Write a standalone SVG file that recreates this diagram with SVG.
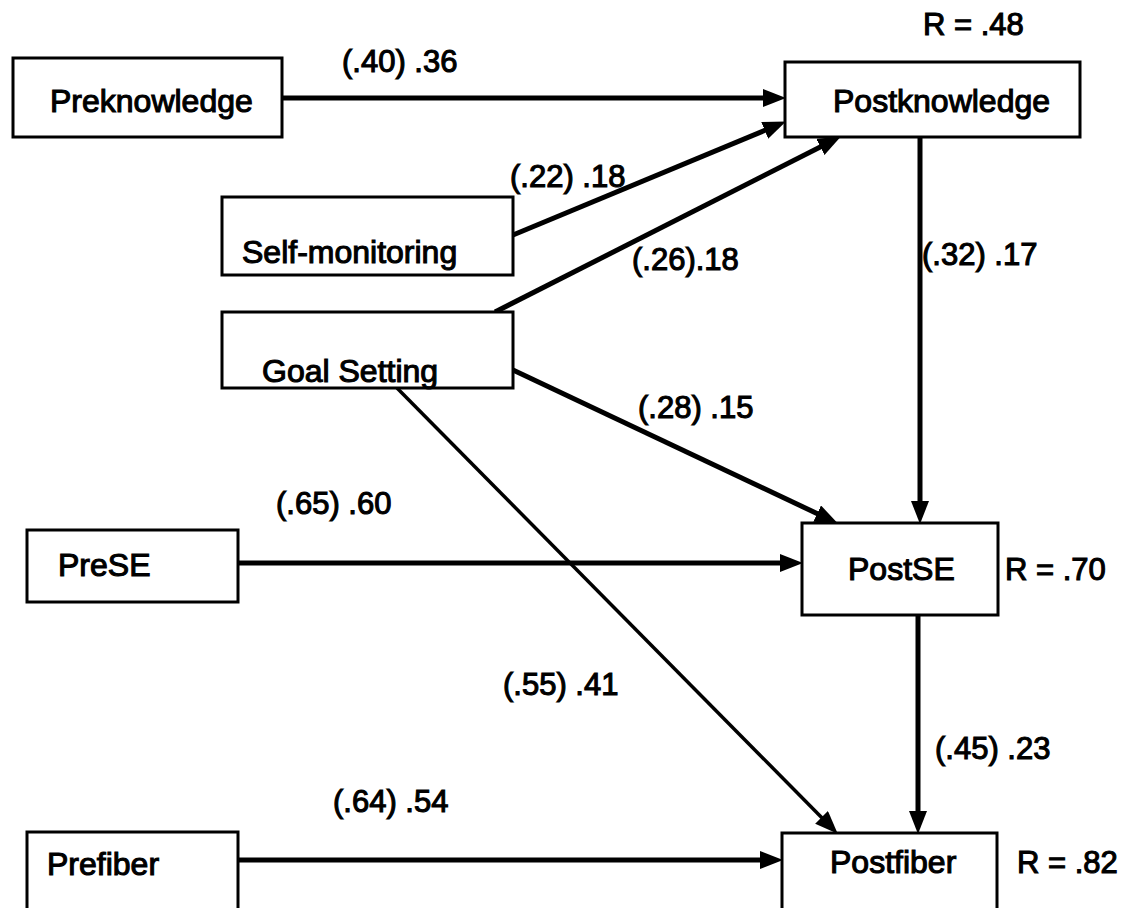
<svg xmlns="http://www.w3.org/2000/svg" width="1126" height="908" viewBox="0 0 1126 908">
<style>
.box{fill:#fff;stroke:#000;stroke-width:3}
.t{font-family:"Liberation Sans",Arial,sans-serif;font-size:31px;fill:#000;stroke:#000;stroke-width:1.1}
.n{font-size:32px}
.c{stroke:#000;stroke-width:5;fill:none}
</style>
<defs>
<marker id="ah" markerUnits="userSpaceOnUse" markerWidth="26" markerHeight="20" refX="12" refY="9" orient="auto">
<path d="M0,0 L23,9 L0,18 z" fill="#000"/>
</marker>
</defs>
<rect width="1126" height="908" fill="#fff"/>
<g id="connectors">
<line class="c" x1="282" y1="98" x2="775" y2="98" marker-end="url(#ah)"/>
<line class="c" x1="513" y1="235" x2="775.8" y2="125.8" marker-end="url(#ah)"/>
<line class="c" x1="495" y1="312" x2="831.1" y2="141.5" marker-end="url(#ah)"/>
<line class="c" x1="920" y1="137" x2="920" y2="513" marker-end="url(#ah)"/>
<line class="c" x1="513" y1="370" x2="828" y2="518.7" marker-end="url(#ah)"/>
<line class="c" x1="397" y1="388" x2="830" y2="825.9" style="stroke-width:3.5" marker-end="url(#ah)"/>
<line class="c" x1="238" y1="563" x2="792" y2="563" marker-end="url(#ah)"/>
<line class="c" x1="918" y1="615" x2="918" y2="823" marker-end="url(#ah)"/>
<line class="c" x1="238" y1="860" x2="772" y2="860" marker-end="url(#ah)"/>
</g>
<g id="labels">
<text class="t" x="342" y="72">(.40) .36</text>
<text class="t" x="510" y="187">(.22) .18</text>
<text class="t" x="632" y="270">(.26).18</text>
<text class="t" x="922" y="265">(.32) .17</text>
<text class="t" x="638" y="418">(.28) .15</text>
<text class="t" x="276" y="514">(.65) .60</text>
<text class="t" x="503" y="695">(.55) .41</text>
<text class="t" x="935" y="759">(.45) .23</text>
<text class="t" x="333" y="812">(.64) .54</text>
<text class="t" x="923" y="35">R = .48</text>
<text class="t" x="1005" y="580">R = .70</text>
<text class="t" x="1017" y="873">R = .82</text>
</g>
<g id="preknowledge"><rect class="box" x="13" y="58" width="269" height="79"/><text class="t n" x="50" y="112">Preknowledge</text></g>
<g id="postknowledge"><rect class="box" x="785" y="62" width="295" height="75"/><text class="t n" x="833" y="112">Postknowledge</text></g>
<g id="selfmonitoring"><rect class="box" x="222" y="197" width="291" height="78"/><text class="t n" x="242" y="263">Self-monitoring</text></g>
<g id="goalsetting"><rect class="box" x="222" y="312" width="291" height="76"/><text class="t n" x="262" y="382">Goal Setting</text></g>
<g id="prese"><rect class="box" x="27" y="530" width="211" height="72"/><text class="t n" x="58" y="576">PreSE</text></g>
<g id="postse"><rect class="box" x="802" y="523" width="196" height="92"/><text class="t n" x="848" y="580">PostSE</text></g>
<g id="prefiber"><rect class="box" x="27" y="832" width="211" height="90"/><text class="t n" x="47" y="875">Prefiber</text></g>
<g id="postfiber"><rect class="box" x="782" y="833" width="215" height="90"/><text class="t n" x="830" y="873">Postfiber</text></g>
</svg>
